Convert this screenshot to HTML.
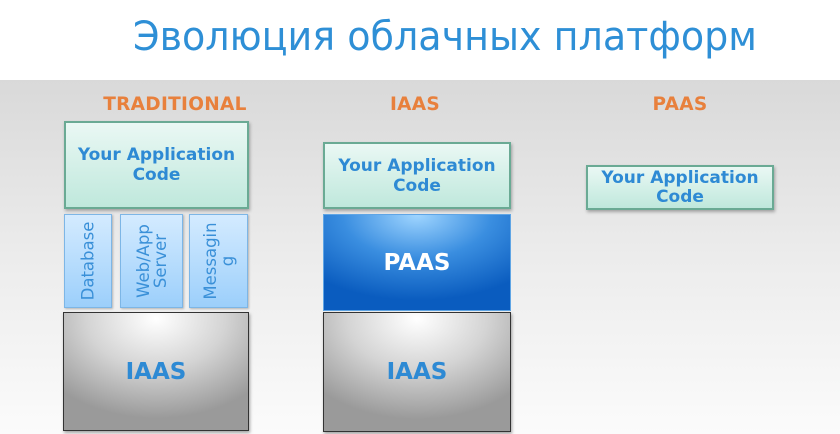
<!DOCTYPE html>
<html><head><meta charset="utf-8"><style>
*{margin:0;padding:0;box-sizing:border-box}
body{width:840px;height:434px;position:relative;overflow:hidden;background:#fff;font-family:"DejaVu Sans","Liberation Sans",sans-serif}
.bg{position:absolute;left:0;top:80px;width:840px;height:354px;background:linear-gradient(#d9d9d9,#ececec 50%,#fbfbfb)}
.h{position:absolute;color:#e8803c;font-weight:bold;font-size:18.5px;text-align:center;letter-spacing:0.3px}
.app{position:absolute;background:linear-gradient(#eaf8f4,#bfe8dc);border:2px solid #6aaa94;box-shadow:1px 2px 3px rgba(0,0,0,.3);color:#2e8ad4;font-weight:bold;font-size:17px;line-height:20px;text-align:center;display:flex;align-items:center;justify-content:center}
.sm{position:absolute;background:linear-gradient(#d4ebff,#9ccffb);border:1px solid #7db6e6;box-shadow:1px 1px 2px rgba(0,0,0,.25)}
.vt{position:absolute;left:50%;top:50%;transform:translate(-50%,-50%) rotate(-90deg);color:#3a90d8;font-size:16.5px;line-height:17px;text-align:center;white-space:nowrap}
.gr{position:absolute;background:radial-gradient(ellipse 75% 85% at 50% 5%,#fff 0%,#d4d4d4 50%,#9a9a9a 100%);border:1px solid #333;box-shadow:1px 2px 3px rgba(0,0,0,.35);color:#2e8ad4;font-weight:bold;font-size:23px;display:flex;align-items:center;justify-content:center}
.pa{position:absolute;background:radial-gradient(ellipse 80% 90% at 50% 0%,#9fd5ff 0%,#3a8ee0 50%,#0a5cbf 100%);border:1px solid #5fa5e5;color:#fff;font-weight:bold;font-size:23px;display:flex;align-items:center;justify-content:center}
</style></head><body>
<svg style="position:absolute;left:0;top:0" width="840" height="80"><text x="133" y="50" textLength="624" lengthAdjust="spacingAndGlyphs" font-family="DejaVu Sans, Liberation Sans, sans-serif" font-size="40" fill="#2e8fd6">Эволюция облачных платформ</text></svg>
<div class="bg"></div>
<div class="h" style="left:85px;top:94px;width:180px">TRADITIONAL</div>
<div class="h" style="left:340px;top:94px;width:150px">IAAS</div>
<div class="h" style="left:600px;top:94px;width:160px">PAAS</div>

<div class="app" style="left:64px;top:121px;width:185px;height:88px">Your Application<br>Code</div>
<div class="sm" style="left:64px;top:214px;width:48px;height:94px"><div class="vt">Database</div></div>
<div class="sm" style="left:120px;top:214px;width:63px;height:94px"><div class="vt">Web/App<br>Server</div></div>
<div class="sm" style="left:189px;top:214px;width:59px;height:94px"><div class="vt">Messagin<br>g</div></div>
<div class="gr" style="left:63px;top:312px;width:186px;height:119px">IAAS</div>

<div class="app" style="left:323px;top:142px;width:188px;height:67px">Your Application<br>Code</div>
<div class="pa" style="left:323px;top:214px;width:188px;height:97px">PAAS</div>
<div class="gr" style="left:323px;top:312px;width:188px;height:120px">IAAS</div>

<div class="app" style="left:586px;top:165px;width:188px;height:45px;line-height:19px">Your Application<br>Code</div>
</body></html>
